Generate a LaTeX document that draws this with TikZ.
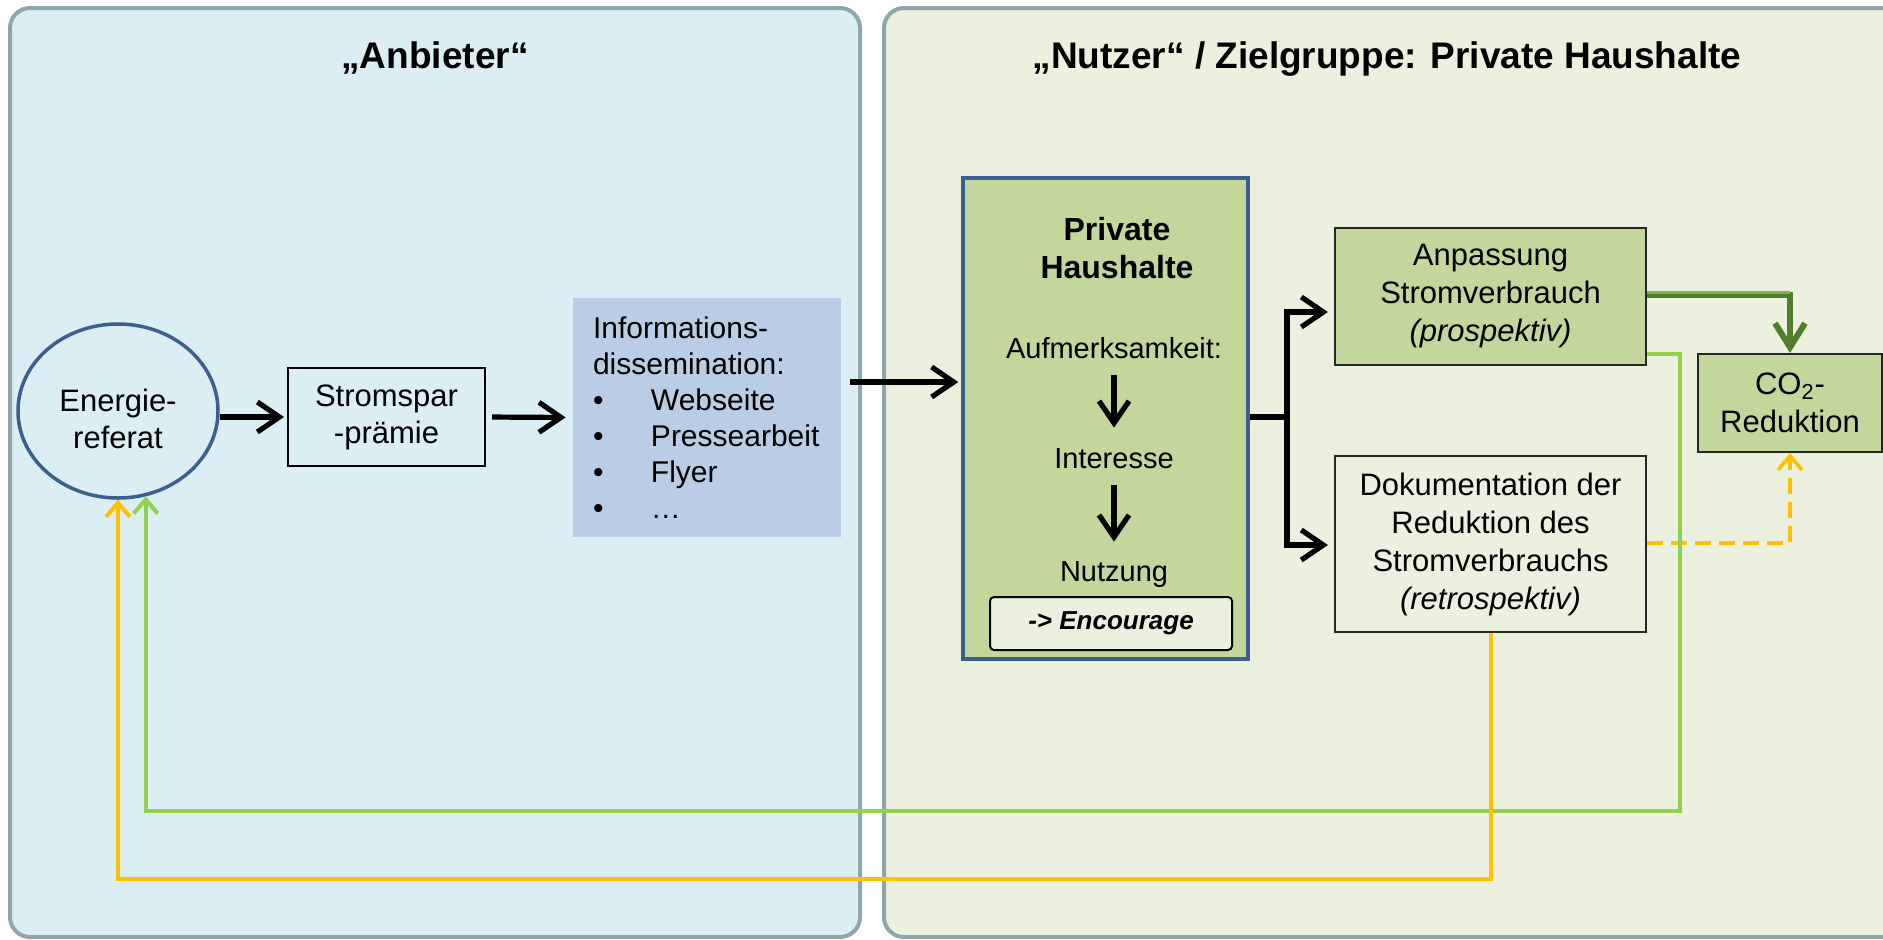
\documentclass[tikz,border=0pt]{standalone}
\usepackage{fontspec}
\setmainfont{Liberation Sans}
\usetikzlibrary{arrows.meta,shapes.geometric}
\definecolor{panelA}{HTML}{DAEEF3}
\definecolor{panelB}{HTML}{EBF1DE}
\definecolor{panelline}{HTML}{8FA7AB}
\definecolor{infofill}{HTML}{B9CDE5}
\definecolor{olivefill}{HTML}{C3D69B}
\definecolor{navy}{HTML}{3B5F8F}
\definecolor{lgreen}{HTML}{92D050}
\definecolor{dgreen}{HTML}{4F7F2D}
\definecolor{mgreen}{HTML}{7DB44A}
\definecolor{amber}{HTML}{FFC000}
\definecolor{boxline}{HTML}{262626}
\tikzset{
  panel/.style={draw=panelline, line width=2pt, rounded corners=10pt},
  ttl/.style={font=\fontsize{18.5}{22}\selectfont\bfseries, inner sep=0pt},
  txt/.style={font=\fontsize{15}{18.5}\selectfont, align=center, inner sep=0pt},
  rtxt/.style={font=\fontsize{15.5}{19}\selectfont, align=center, inner sep=0pt},
  ptxt/.style={font=\fontsize{14.5}{17}\selectfont, inner sep=0pt, text height=11pt, text depth=3pt},
  rbox/.style={rtxt, draw=boxline, line width=1.1pt},
  infobox/.style={fill=infofill, minimum width=134pt, minimum height=119.5pt, text width=114pt,
    inner xsep=10pt, inner ysep=0pt, align=left, font=\fontsize{15}{18}\selectfont},
  blkarr/.style={draw=black, line width=2.6pt, -{Straight Barb[length=11pt,width=15pt]}},
  blkline/.style={draw=black, line width=2.6pt},
  lgline/.style={draw=lgreen, line width=2pt, -{Straight Barb[length=7pt,width=12pt]}},
  ylline/.style={draw=amber, line width=2pt, -{Straight Barb[length=7pt,width=12pt]}},
  yldash/.style={draw=amber, line width=1.8pt, dash pattern=on 8pt off 4pt, -{Straight Barb[length=7pt,width=12pt]}},
  dgline/.style={draw=dgreen, line width=3pt, -{Straight Barb[length=12pt,width=15pt]}},
  dghi/.style={draw=mgreen, line width=1.3pt}
}
\begin{document}
\begin{tikzpicture}[x=0.5pt,y=-0.5pt]
\useasboundingbox (0,0) rectangle (1883,939);
\clip (0,0) rectangle (1883,939);
% panels
\draw[panel, fill=panelA] (10,8) rectangle (860,937);
\draw[panel, fill=panelB] (884,8) rectangle (1920,937);
\node[ttl, anchor=base] (tA) at (435,68) {„Anbieter“};
\node[ttl, anchor=base] (tB) at (1387,68) {„Nutzer“ / Zielgruppe: Private Haushalte};

% left side
\node[ellipse, draw=navy, line width=1.75pt, fill=panelA, minimum width=100pt, minimum height=87pt, inner sep=0pt] (ell) at (118,411) {};
\node[txt, font=\fontsize{15.5}{18.5}\selectfont] (ellt) at (118,419) {Energie-\\referat};
\node[txt, font=\fontsize{15.5}{18.5}\selectfont, draw=black, line width=1pt, fill=panelA, minimum width=98.5pt, minimum height=49pt] (ssp) at (386.5,417) {Stromspar\\-prämie};
\node[infobox] (inf) at (707,417.5) {Informations-\\dissemination:\\\makebox[29pt][l]{•}Webseite\\\makebox[29pt][l]{•}Pressearbeit\\\makebox[29pt][l]{•}Flyer\\\makebox[29pt][l]{•}…};

% private households
\node[draw=navy, line width=1.75pt, fill=olivefill, minimum width=142.5pt, minimum height=240.5pt, inner sep=0pt] (pri) at (1105.5,418.5) {};
\node[font=\fontsize{16}{19}\selectfont\bfseries, align=center, inner sep=0pt] (ph) at (1117,248) {Private\\Haushalte};
\node[ptxt] (auf) at (1114,350) {Aufmerksamkeit:};
\node[ptxt] (int) at (1114,460) {Interesse};
\node[ptxt] (nut) at (1114,573) {Nutzung};
\node[draw=black, line width=1pt, fill=panelB, rounded corners=2pt, minimum width=121pt, minimum height=26.5pt, inner sep=0pt, font=\fontsize{13}{15}\selectfont\bfseries\itshape] (enc) at (1111,623.5) {-> Encourage};
\draw[blkarr, shorten <=5.5pt, shorten >=9pt] (auf.south) -- (int.north);
\draw[blkarr, shorten <=5.5pt, shorten >=8.5pt] (int.south) -- (nut.north);

% right boxes
\node[rbox, fill=olivefill, minimum width=155.5pt, minimum height=68.5pt] (anp) at (1490.5,296.5) {Anpassung\\Stromverbrauch\\\textit{(prospektiv)}};
\node[rbox, fill=panelB, minimum width=155.5pt, minimum height=88pt] (dok) at (1490.5,544) {Dokumentation der\\Reduktion des\\Stromverbrauchs\\\textit{(retrospektiv)}};
\node[rbox, fill=olivefill, minimum width=92pt, minimum height=49pt] (co2) at (1790,403) {CO\textsubscript{2}-\\Reduktion};

% main flow arrows
\draw[blkarr, shorten >=1.5pt] (ell.east |- ssp.west) -- (ssp.west);
\draw[blkarr, shorten <=3pt, shorten >=3.5pt] (ssp.east) -- (inf.west);
\coordinate (y3) at (0,382);
\draw[blkarr, shorten <=4.5pt, shorten >=1.5pt] (inf.east |- y3) -- (pri.west |- y3);
\coordinate (jn) at (1287,417);
\coordinate (ya) at (0,312);
\coordinate (yd) at (0,545);
\draw[blkline] (pri.east |- jn) -- (jn);
\draw[blkarr, shorten >=3pt] (jn) |- (anp.west |- ya);
\draw[blkarr, shorten >=3pt] (jn) |- (dok.west |- yd);

% CO2 connections
\coordinate (gC) at (0,295);
\coordinate (gH) at (0,292.5);
\draw[dgline] (anp.east |- gC) -| (co2.north);
\draw[dghi] (anp.east |- gH) -- (co2.north |- gH);
\coordinate (dA) at (0,543);
\draw[yldash] (dok.east |- dA) -| (co2.south);

% feedback loops
\coordinate (gA) at (0,354);
\coordinate (gB) at (1680,811);
\draw[lgline] (anp.east |- gA) -| (gB) -| (ell.-72);
\coordinate (yA) at (1491,0);
\coordinate (yB) at (118,879);
\draw[ylline] (dok.south -| yA) |- (yB) -- (ell.south);
\end{tikzpicture}
\end{document}
